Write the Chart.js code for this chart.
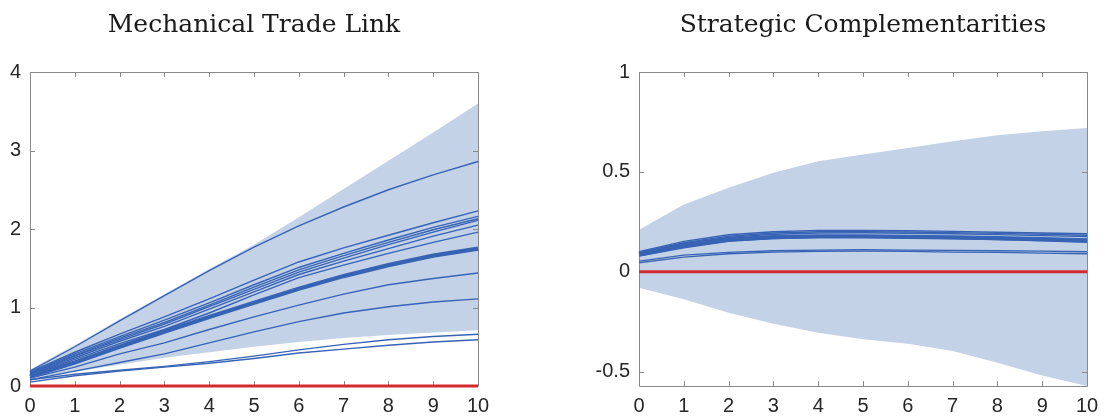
<!DOCTYPE html>
<html>
<head>
<meta charset="utf-8">
<script src="https://cdn.jsdelivr.net/npm/chart.js@4.4.1/dist/chart.umd.min.js"></script>
<style>
  html, body { margin: 0; padding: 0; background: #ffffff; }
  #wrap { position: relative; width: 1107px; height: 419px; overflow: hidden; }
  #cL { position: absolute; left: 0; top: 0; }
  #cR { position: absolute; left: 553px; top: 0; }
</style>
</head>
<body>
<div id="wrap">
  <canvas id="cL" width="553" height="419"></canvas>
  <canvas id="cR" width="554" height="419"></canvas>
</div>
<script>
// ---------------- DATA ----------------
const HORIZON = [0, 1, 2, 3, 4, 5, 6, 7, 8, 9, 10];
const X_TICKS = [0, 1, 2, 3, 4, 5, 6, 7, 8, 9, 10];

const TITLE_LEFT = 'Mechanical Trade Link';
const TITLE_RIGHT = 'Strategic Complementarities';

// Left panel: Mechanical Trade Link
const LEFT_Y_TICKS = [0, 1, 2, 3, 4];
const LEFT_BAND_UPPER = [0.21, 0.52, 0.85, 1.17, 1.49, 1.80, 2.15, 2.51, 2.87, 3.23, 3.60];
const LEFT_BAND_LOWER = [0.10, 0.18, 0.27, 0.36, 0.43, 0.50, 0.56, 0.61, 0.65, 0.68, 0.71];
const LEFT_MEDIAN     = [0.12, 0.30, 0.50, 0.69, 0.88, 1.06, 1.24, 1.40, 1.54, 1.66, 1.75];
const LEFT_ZERO       = [0, 0, 0, 0, 0, 0, 0, 0, 0, 0, 0];
const LEFT_L1  = [0.19, 0.50, 0.83, 1.15, 1.47, 1.77, 2.04, 2.28, 2.50, 2.69, 2.86];
const LEFT_L2  = [0.18, 0.43, 0.66, 0.88, 1.11, 1.35, 1.58, 1.76, 1.92, 2.08, 2.23];
const LEFT_L3  = [0.17, 0.41, 0.63, 0.84, 1.06, 1.29, 1.51, 1.69, 1.86, 2.02, 2.16];
const LEFT_L4  = [0.16, 0.39, 0.61, 0.81, 1.03, 1.26, 1.48, 1.66, 1.83, 1.99, 2.13];
const LEFT_L5  = [0.15, 0.38, 0.59, 0.79, 1.01, 1.23, 1.45, 1.63, 1.80, 1.96, 2.11];
const LEFT_L6  = [0.14, 0.36, 0.57, 0.76, 0.98, 1.20, 1.42, 1.59, 1.75, 1.91, 2.05];
const LEFT_L7  = [0.13, 0.34, 0.54, 0.72, 0.93, 1.16, 1.38, 1.54, 1.69, 1.83, 1.96];
const LEFT_L8  = [0.10, 0.24, 0.41, 0.55, 0.72, 0.88, 1.03, 1.17, 1.29, 1.37, 1.44];
const LEFT_L9  = [0.08, 0.19, 0.30, 0.41, 0.55, 0.69, 0.82, 0.93, 1.01, 1.07, 1.11];
const LEFT_L10 = [0.08, 0.15, 0.20, 0.25, 0.31, 0.38, 0.46, 0.53, 0.59, 0.63, 0.66];
const LEFT_L11 = [0.05, 0.13, 0.19, 0.24, 0.29, 0.35, 0.42, 0.47, 0.52, 0.56, 0.59];

// Right panel: Strategic Complementarities
const RIGHT_Y_TICKS = [-0.5, 0, 0.5, 1];
const RIGHT_BAND_UPPER = [0.21, 0.337, 0.42, 0.495, 0.553, 0.587, 0.62, 0.653, 0.683, 0.703, 0.72];
const RIGHT_BAND_LOWER = [-0.08, -0.138, -0.205, -0.26, -0.305, -0.338, -0.36, -0.397, -0.455, -0.52, -0.572];
const RIGHT_MEDIAN     = [0.087, 0.130, 0.162, 0.173, 0.177, 0.177, 0.175, 0.172, 0.168, 0.163, 0.157];
const RIGHT_ZERO       = [0, 0, 0, 0, 0, 0, 0, 0, 0, 0, 0];
const RIGHT_U1 = [0.100, 0.152, 0.185, 0.200, 0.207, 0.207, 0.205, 0.202, 0.198, 0.194, 0.190];
const RIGHT_U2 = [0.095, 0.145, 0.178, 0.194, 0.200, 0.201, 0.199, 0.196, 0.192, 0.188, 0.183];
const RIGHT_U3 = [0.090, 0.140, 0.172, 0.188, 0.194, 0.195, 0.193, 0.190, 0.186, 0.181, 0.176];
const RIGHT_U4 = [0.083, 0.128, 0.160, 0.174, 0.180, 0.181, 0.179, 0.176, 0.172, 0.167, 0.162];
const RIGHT_U5 = [0.078, 0.120, 0.152, 0.166, 0.172, 0.172, 0.170, 0.166, 0.161, 0.155, 0.148];
const RIGHT_D1 = [0.053, 0.083, 0.097, 0.105, 0.108, 0.110, 0.108, 0.107, 0.105, 0.103, 0.100];
const RIGHT_D2 = [0.045, 0.073, 0.090, 0.098, 0.102, 0.103, 0.102, 0.098, 0.097, 0.093, 0.090];

// ---------------- STYLE ----------------
const BLUE = '#3763b5';
const BAND = 'rgb(196,210,232)';
const RED = '#d42a2e';
const AXIS = '#8a8a8a';
const TEXT = '#262626';
const TICK_FONT = { family: '"Liberation Sans", Arial, sans-serif', size: 20 };

function pts(ys) { return HORIZON.map((x, i) => ({ x: x, y: ys[i] })); }

function lineDs(ys, width) {
  return { data: pts(ys), borderColor: BLUE, borderWidth: width, pointRadius: 0,
           tension: 0, fill: false, clip: 4 };
}

function buildDatasets(zero, median, lines, lower, upper) {
  const ds = [];
  ds.push({ data: pts(zero), borderColor: RED, borderWidth: 3.2, pointRadius: 0, tension: 0, fill: false, clip: false });
  ds.push(lineDs(median, 4.2));
  lines.forEach(l => ds.push(lineDs(l, 1.4)));
  const lowIdx = ds.length;
  ds.push({ data: pts(lower), borderWidth: 0, borderColor: 'rgba(0,0,0,0)', pointRadius: 0, tension: 0, fill: false });
  ds.push({ data: pts(upper), borderWidth: 0, borderColor: 'rgba(0,0,0,0)', pointRadius: 0, tension: 0,
            fill: { target: lowIdx }, backgroundColor: BAND });
  return ds;
}

const boxPlugin = {
  id: 'matlabBox',
  beforeDatasetsDraw(chart) {
    const { ctx, chartArea: a, scales } = chart;
    ctx.save();
    ctx.strokeStyle = AXIS;
    ctx.lineWidth = 1;
    ctx.beginPath();
    ctx.rect(Math.round(a.left) + 0.5, Math.round(a.top) + 0.5,
             Math.round(a.right - a.left), Math.round(a.bottom - a.top));
    ctx.stroke();
    const tl = 5;
    ctx.beginPath();
    scales.x.ticks.forEach(t => {
      const px = Math.round(scales.x.getPixelForValue(t.value)) + 0.5;
      ctx.moveTo(px, a.bottom); ctx.lineTo(px, a.bottom - tl);
      ctx.moveTo(px, a.top); ctx.lineTo(px, a.top + tl);
    });
    scales.y.ticks.forEach(t => {
      const py = Math.round(scales.y.getPixelForValue(t.value)) + 0.5;
      ctx.moveTo(a.left, py); ctx.lineTo(a.left + tl, py);
      ctx.moveTo(a.right, py); ctx.lineTo(a.right - tl, py);
    });
    ctx.stroke();
    ctx.restore();
  }
};

const titlePlugin = {
  id: 'serifTitle',
  afterDraw(chart, args, opts) {
    const { ctx, chartArea: a } = chart;
    ctx.save();
    ctx.fillStyle = '#1a1a1a';
    ctx.font = opts.size + 'px "DejaVu Serif", "Liberation Serif", serif';
    ctx.textAlign = 'center';
    ctx.textBaseline = 'alphabetic';
    ctx.fillText(opts.text, (a.left + a.right) / 2, 32);
    ctx.restore();
  }
};

function makeChart(canvasId, datasets, yMin, yMax, yTicks, yAxisWidth, padRight, title) {
  return new Chart(document.getElementById(canvasId), {
    type: 'line',
    data: { datasets: datasets },
    plugins: [boxPlugin, titlePlugin],
    options: {
      responsive: false,
      animation: false,
      devicePixelRatio: 1,
      layout: { padding: { left: 0, right: padRight, top: 72, bottom: 0 } },
      plugins: {
        legend: { display: false },
        tooltip: { enabled: false },
        filler: { drawTime: 'beforeDatasetsDraw' },
        serifTitle: { text: title, size: 25 }
      },
      scales: {
        x: {
          type: 'linear', min: 0, max: 10,
          afterBuildTicks: s => { s.ticks = X_TICKS.map(v => ({ value: v })); },
          afterFit: s => { s.height = 33; },
          grid: { display: false, drawTicks: false },
          border: { display: false },
          ticks: { autoSkip: false, maxRotation: 0, padding: 8, color: TEXT, font: TICK_FONT,
                   callback: v => String(v) }
        },
        y: {
          type: 'linear', min: yMin, max: yMax,
          afterBuildTicks: s => { s.ticks = yTicks.map(v => ({ value: v })); },
          afterFit: s => { s.width = yAxisWidth; },
          grid: { display: false, drawTicks: false },
          border: { display: false },
          ticks: { autoSkip: false, padding: 9, color: TEXT, font: TICK_FONT,
                   callback: v => String(v) }
        }
      }
    }
  });
}

makeChart('cL',
  buildDatasets(LEFT_ZERO, LEFT_MEDIAN,
    [LEFT_L1, LEFT_L2, LEFT_L3, LEFT_L4, LEFT_L5, LEFT_L6, LEFT_L7, LEFT_L8, LEFT_L9, LEFT_L10, LEFT_L11],
    LEFT_BAND_LOWER, LEFT_BAND_UPPER),
  0, 4, LEFT_Y_TICKS, 30, 75, TITLE_LEFT);

makeChart('cR',
  buildDatasets(RIGHT_ZERO, RIGHT_MEDIAN,
    [RIGHT_U1, RIGHT_U2, RIGHT_U3, RIGHT_U4, RIGHT_U5, RIGHT_D1, RIGHT_D2],
    RIGHT_BAND_LOWER, RIGHT_BAND_UPPER),
  -0.572, 1, RIGHT_Y_TICKS, 86, 20, TITLE_RIGHT);
</script>
</body>
</html>
